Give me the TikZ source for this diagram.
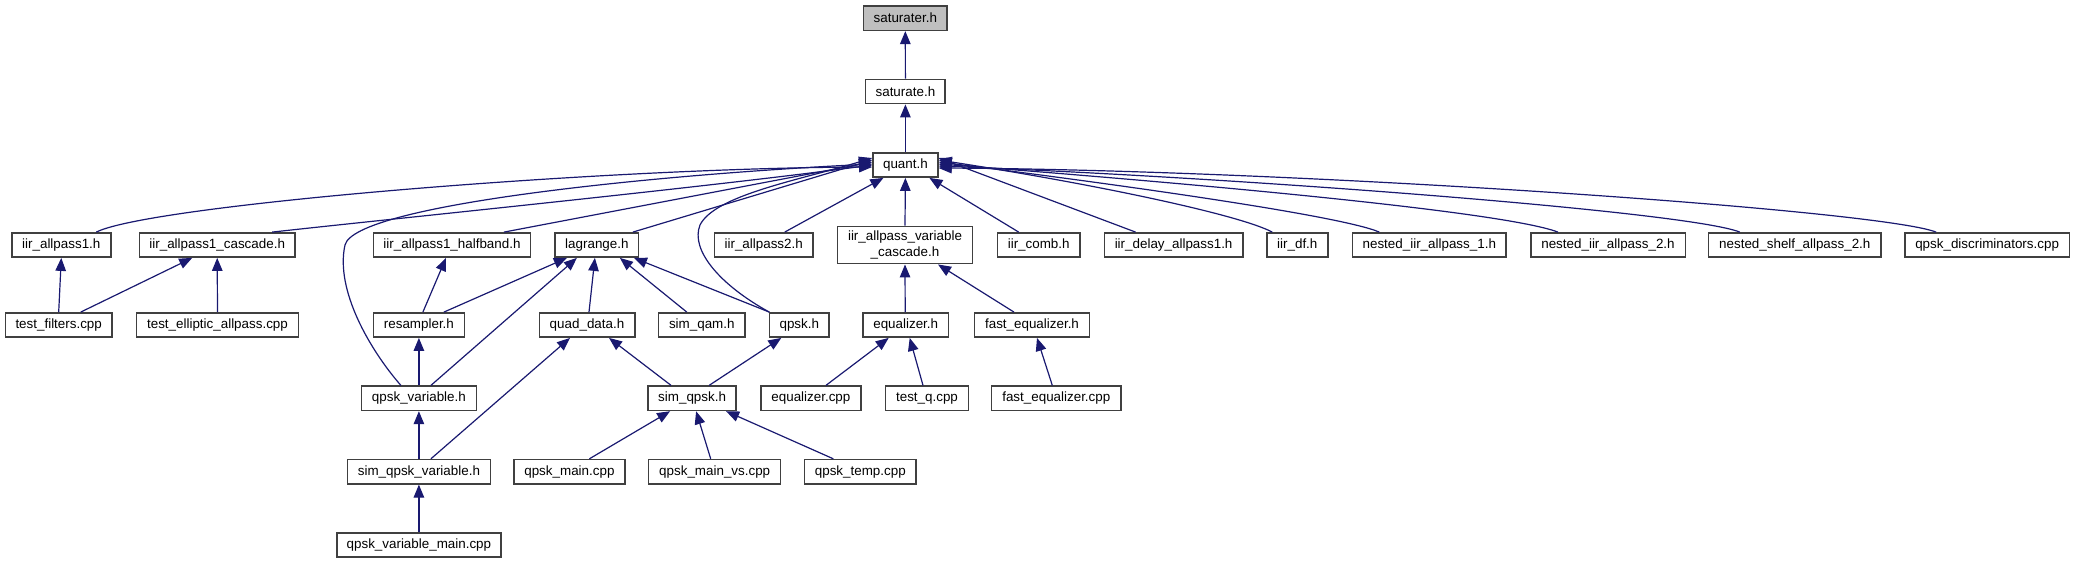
\documentclass[tikz,border=0pt]{standalone}
\usepackage{fontspec}
\setmainfont{Liberation Sans}
\usetikzlibrary{arrows.meta}
\definecolor{edgeblue}{HTML}{191970}
\definecolor{boxborder}{HTML}{404040}
\definecolor{rootfill}{HTML}{BFBFBF}
\tikzset{
  box/.style={draw=boxborder, line width=1.5pt, fill=white, minimum height=24.3pt,
    inner sep=0pt, align=center, font=\fontsize{13.4}{15.5}\selectfont},
  rootbox/.style={box, fill=rootfill},
  dep/.style={draw=edgeblue, line width=1.2pt, -{Triangle[length=13pt,width=10.5pt]}},
}
\begin{document}
\begin{tikzpicture}[x=1pt,y=-1pt]
\useasboundingbox (0,0) rectangle (2074,563);
% row 0-2
\node[rootbox, minimum width=83.5pt] (saturater) at (905.3,18.2) {saturater.h};
\node[box, minimum width=79.6pt] (saturate) at (905.4,91.5) {saturate.h};
\node[box, minimum width=65pt] (quant) at (905.4,165) {quant.h};
% row 3
\node[box, minimum width=98.9pt] (ap1) at (61.3,245) {iir\_allpass1.h};
\node[box, minimum width=155.9pt] (ap1c) at (217.2,245) {iir\_allpass1\_cascade.h};
\node[box, minimum width=157.2pt] (ap1h) at (452,245) {iir\_allpass1\_halfband.h};
\node[box, minimum width=83.6pt] (lag) at (596.9,245) {lagrange.h};
\node[box, minimum width=98.9pt] (ap2) at (763.7,245) {iir\_allpass2.h};
\node[box, minimum width=134.7pt, minimum height=37.4pt] (apvc) at (905,245) {iir\_allpass\_variable\\\_cascade.h};
\node[box, minimum width=82.7pt] (comb) at (1038.7,245) {iir\_comb.h};
\node[box, minimum width=138.6pt] (delay) at (1173.6,245) {iir\_delay\_allpass1.h};
\node[box, minimum width=61pt] (df) at (1297.3,245) {iir\_df.h};
\node[box, minimum width=153.8pt] (n1) at (1429.3,245) {nested\_iir\_allpass\_1.h};
\node[box, minimum width=154.5pt] (n2) at (1608,245) {nested\_iir\_allpass\_2.h};
\node[box, minimum width=172.5pt] (ns2) at (1794.8,245) {nested\_shelf\_allpass\_2.h};
\node[box, minimum width=164.4pt] (disc) at (1987.1,245) {qpsk\_discriminators.cpp};
% row 4
\node[box, minimum width=106.8pt] (tf) at (58.7,325) {test\_filters.cpp};
\node[box, minimum width=161.9pt] (tea) at (217.5,325) {test\_elliptic\_allpass.cpp};
\node[box, minimum width=90.9pt] (res) at (418.9,325) {resampler.h};
\node[box, minimum width=95.5pt] (qd) at (587,325) {quad\_data.h};
\node[box, minimum width=86.3pt] (sqam) at (701.8,325) {sim\_qam.h};
\node[box, minimum width=59.7pt] (qpsk) at (799.3,325) {qpsk.h};
\node[box, minimum width=85.6pt] (eqh) at (905.7,325) {equalizer.h};
\node[box, minimum width=115.4pt] (feqh) at (1032,325) {fast\_equalizer.h};
% row 5
\node[box, minimum width=114.7pt] (qv) at (418.9,398.3) {qpsk\_variable.h};
\node[box, minimum width=88.2pt] (sq) at (692.1,398.3) {sim\_qpsk.h};
\node[box, minimum width=100.1pt] (eqc) at (810.9,398.3) {equalizer.cpp};
\node[box, minimum width=82.9pt] (tq) at (927,398.3) {test\_q.cpp};
\node[box, minimum width=129.3pt] (feqc) at (1056.3,398.3) {fast\_equalizer.cpp};
% row 6
\node[box, minimum width=142.7pt] (sqv) at (418.9,471.7) {sim\_qpsk\_variable.h};
\node[box, minimum width=110.8pt] (qm) at (569.4,471.7) {qpsk\_main.cpp};
\node[box, minimum width=132pt] (qmvs) at (714.7,471.7) {qpsk\_main\_vs.cpp};
\node[box, minimum width=111.5pt] (qt) at (860.3,471.7) {qpsk\_temp.cpp};
% row 7
\node[box, minimum width=163.8pt] (qvm) at (418.9,545) {qpsk\_variable\_main.cpp};

% edges top
\draw[dep] (saturate.north) -- (saturater.south);
\draw[dep] (quant.north) -- (saturate.south);
% edges into quant (left side)
\draw[dep] ([xshift=35pt]ap1.north) .. controls (150,205) and (600,168) .. ([yshift=-2pt]quant.west);
\draw[dep] ([xshift=55pt]ap1c.north) .. controls (380,220) and (700,188) .. ([yshift=0pt]quant.west);
\draw[dep] ([xshift=-18pt]qv.north) .. controls (370,350) and (335,290) .. (345,245)
   .. controls (355,205) and (650,175) .. ([yshift=1pt]quant.west);
\draw[dep] ([xshift=52pt]ap1h.north) -- ([yshift=3pt]quant.west);
\draw[dep] ([xshift=36pt]lag.north) -- ([yshift=5pt]quant.west);
\draw[dep] ([xshift=-30pt]qpsk.north) .. controls (720,285) and (690,250) .. (700,225)
   .. controls (715,195) and (800,180) .. ([yshift=7pt]quant.west);
\draw[dep] ([xshift=21pt]ap2.north) -- ([xshift=-22pt]quant.south);
\draw[dep] (apvc.north) -- (quant.south);
\draw[dep] ([xshift=-20pt]comb.north) -- ([xshift=24pt]quant.south);
% right side
\draw[dep] ([xshift=-38pt]delay.north) -- ([yshift=7pt]quant.east);
\draw[dep] ([xshift=-25pt]df.north) .. controls (1240,215) and (1100,185) .. ([yshift=5pt]quant.east);
\draw[dep] ([xshift=-50pt]n1.north) .. controls (1340,215) and (1100,182) .. ([yshift=3pt]quant.east);
\draw[dep] ([xshift=-50pt]n2.north) .. controls (1500,210) and (1150,180) .. ([yshift=1pt]quant.east);
\draw[dep] ([xshift=-55pt]ns2.north) .. controls (1690,212) and (1250,178) .. ([yshift=-1pt]quant.east);
\draw[dep] ([xshift=-51pt]disc.north) .. controls (1880,210) and (1300,170) .. ([yshift=-3pt]quant.east);
% row 4 -> row 3
\draw[dep] (tf.north) -- (ap1.south);
\draw[dep] ([xshift=22pt]tf.north) -- ([xshift=-25pt]ap1c.south);
\draw[dep] (tea.north) -- (ap1c.south);
\draw[dep] ([xshift=4pt]res.north) -- ([xshift=-6pt]ap1h.south);
\draw[dep] ([xshift=25pt]res.north) -- ([xshift=-30pt]lag.south);
\draw[dep] ([xshift=12pt]qv.north) -- ([xshift=-20pt]lag.south);
\draw[dep] ([xshift=2pt]qd.north) -- ([xshift=-2pt]lag.south);
\draw[dep] ([xshift=-15pt]sqam.north) -- ([xshift=23pt]lag.south);
\draw[dep] ([xshift=-30pt]qpsk.north) -- ([xshift=37pt]lag.south);
\draw[dep] ([xshift=-0.5pt]eqh.north) -- (apvc.south);
\draw[dep] ([xshift=-18pt]feqh.north) -- ([xshift=33pt]apvc.south);
% row 5 -> row 4
\draw[dep] (qv.north) -- (res.south);
\draw[dep] ([xshift=-21pt]sq.north) -- ([xshift=22pt]qd.south);
\draw[dep] ([xshift=17pt]sq.north) -- ([xshift=-18pt]qpsk.south);
\draw[dep] ([xshift=15pt]eqc.north) -- ([xshift=-17pt]eqh.south);
\draw[dep] ([xshift=-4pt]tq.north) -- ([xshift=4pt]eqh.south);
\draw[dep] ([xshift=-4pt]feqc.north) -- ([xshift=5pt]feqh.south);
% row 6 -> row 5
\draw[dep] (sqv.north) -- (qv.south);
\draw[dep] ([xshift=12pt]sqv.north) -- ([xshift=-17pt]qd.south);
\draw[dep] ([xshift=20pt]qm.north) -- ([xshift=-22pt]sq.south);
\draw[dep] ([xshift=-4pt]qmvs.north) -- ([xshift=4pt]sq.south);
\draw[dep] ([xshift=-27pt]qt.north) -- ([xshift=34pt]sq.south);
% row 7 -> row 6
\draw[dep] (qvm.north) -- (sqv.south);
\end{tikzpicture}
\end{document}
